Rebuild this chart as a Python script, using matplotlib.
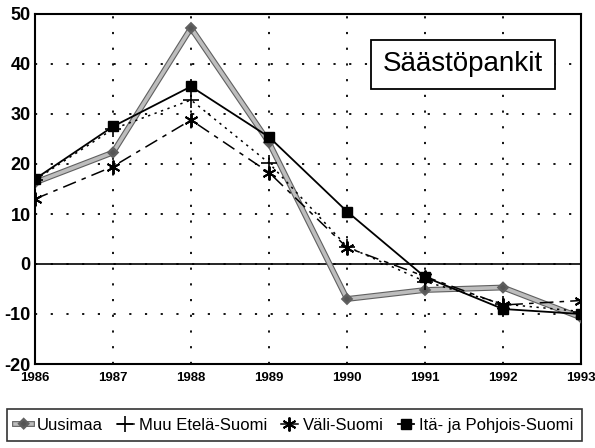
import matplotlib
matplotlib.use("Agg")
import matplotlib.pyplot as plt
import matplotlib.patheffects as pe

years = [1986, 1987, 1988, 1989, 1990, 1991, 1992, 1993]
uusimaa = [16.3, 22.3, 47.2, 24.3, -7.0, -5.2, -4.7, -10.7]
muu_etela = [16.8, 27.0, 32.8, 20.2, 3.5, -3.5, -8.0, -9.5]
vali = [13.0, 19.5, 28.8, 18.3, 3.3, -2.5, -8.2, -7.3]
ita_pohjois = [17.0, 27.5, 35.5, 25.4, 10.5, -2.6, -9.0, -10.0]
labels = ["Uusimaa", "Muu Etelä-Suomi", "Väli-Suomi", "Itä- ja Pohjois-Suomi"]
yticks = [-20, -10, 0, 10, 20, 30, 40, 50]
title = "Säästöpankit"

plt.rcParams['font.family'] = ['Liberation Sans', 'DejaVu Sans']
plt.rcParams['axes.unicode_minus'] = False

fig = plt.figure(figsize=(5.95, 4.48), dpi=100)
ax = fig.add_axes([35/595, 1-364/448, 546/595, 350/448])

ax.set_xlim(years[0], years[-1])
ax.set_ylim(-20, 50)
ax.set_yticks(yticks)
ax.set_xticks(years)
ax.grid(True, color='black', linestyle=(0, (1.2, 7.5)), linewidth=1.3)
ax.axhline(0, color='black', linewidth=1.2)
for s in ax.spines.values():
    s.set_linewidth(1.5)
ax.tick_params(axis='y', length=0, pad=3)
ax.tick_params(axis='x', length=0, pad=6)
for t in ax.get_yticklabels():
    t.set_fontsize(13)
    t.set_fontweight('bold')
for t in ax.get_xticklabels():
    t.set_fontsize(9.5)
    t.set_fontweight('bold')

h1, = ax.plot(years, uusimaa, color='#bdbdbd', linewidth=2.6, marker='D', markersize=2.2,
              markerfacecolor='#555555', markeredgecolor='#555555', zorder=3,
              path_effects=[pe.Stroke(linewidth=4.2, foreground='#606060'), pe.Normal()])
h2, = ax.plot(years, muu_etela, color='black', linewidth=1.1, linestyle=(0, (1.5, 3)),
              marker='+', markersize=11, markeredgewidth=1.2, zorder=4)
h3, = ax.plot(years, vali, color='black', linewidth=1.1, linestyle=(0, (9, 4, 3, 4)),
              marker=(6, 2, 0), markersize=10, markeredgewidth=1.4, zorder=4)
h4, = ax.plot(years, ita_pohjois, color='black', linewidth=1.3, linestyle='-',
              marker='s', markersize=6.5, zorder=5)

ax.text(0.784, 0.856, title, transform=ax.transAxes, fontsize=20,
        ha='center', va='center', zorder=6,
        bbox=dict(boxstyle='square,pad=0.42', facecolor='white', edgecolor='black', linewidth=1.3))

leg = fig.legend([h1, h2, h3, h4], labels, loc='center', mode='expand',
                 bbox_to_anchor=(7/595, 4/448, 575/595, 38/448), ncol=4, borderaxespad=0,
                 frameon=True, fancybox=False, edgecolor='black', fontsize=12,
                 handlelength=1.0, handletextpad=0.3, columnspacing=0.6, borderpad=0.5)
leg.get_frame().set_linewidth(1.2)
for lh in leg.get_lines():
    lh.set_linestyle('-')

fig.savefig("out.png", dpi=100)
